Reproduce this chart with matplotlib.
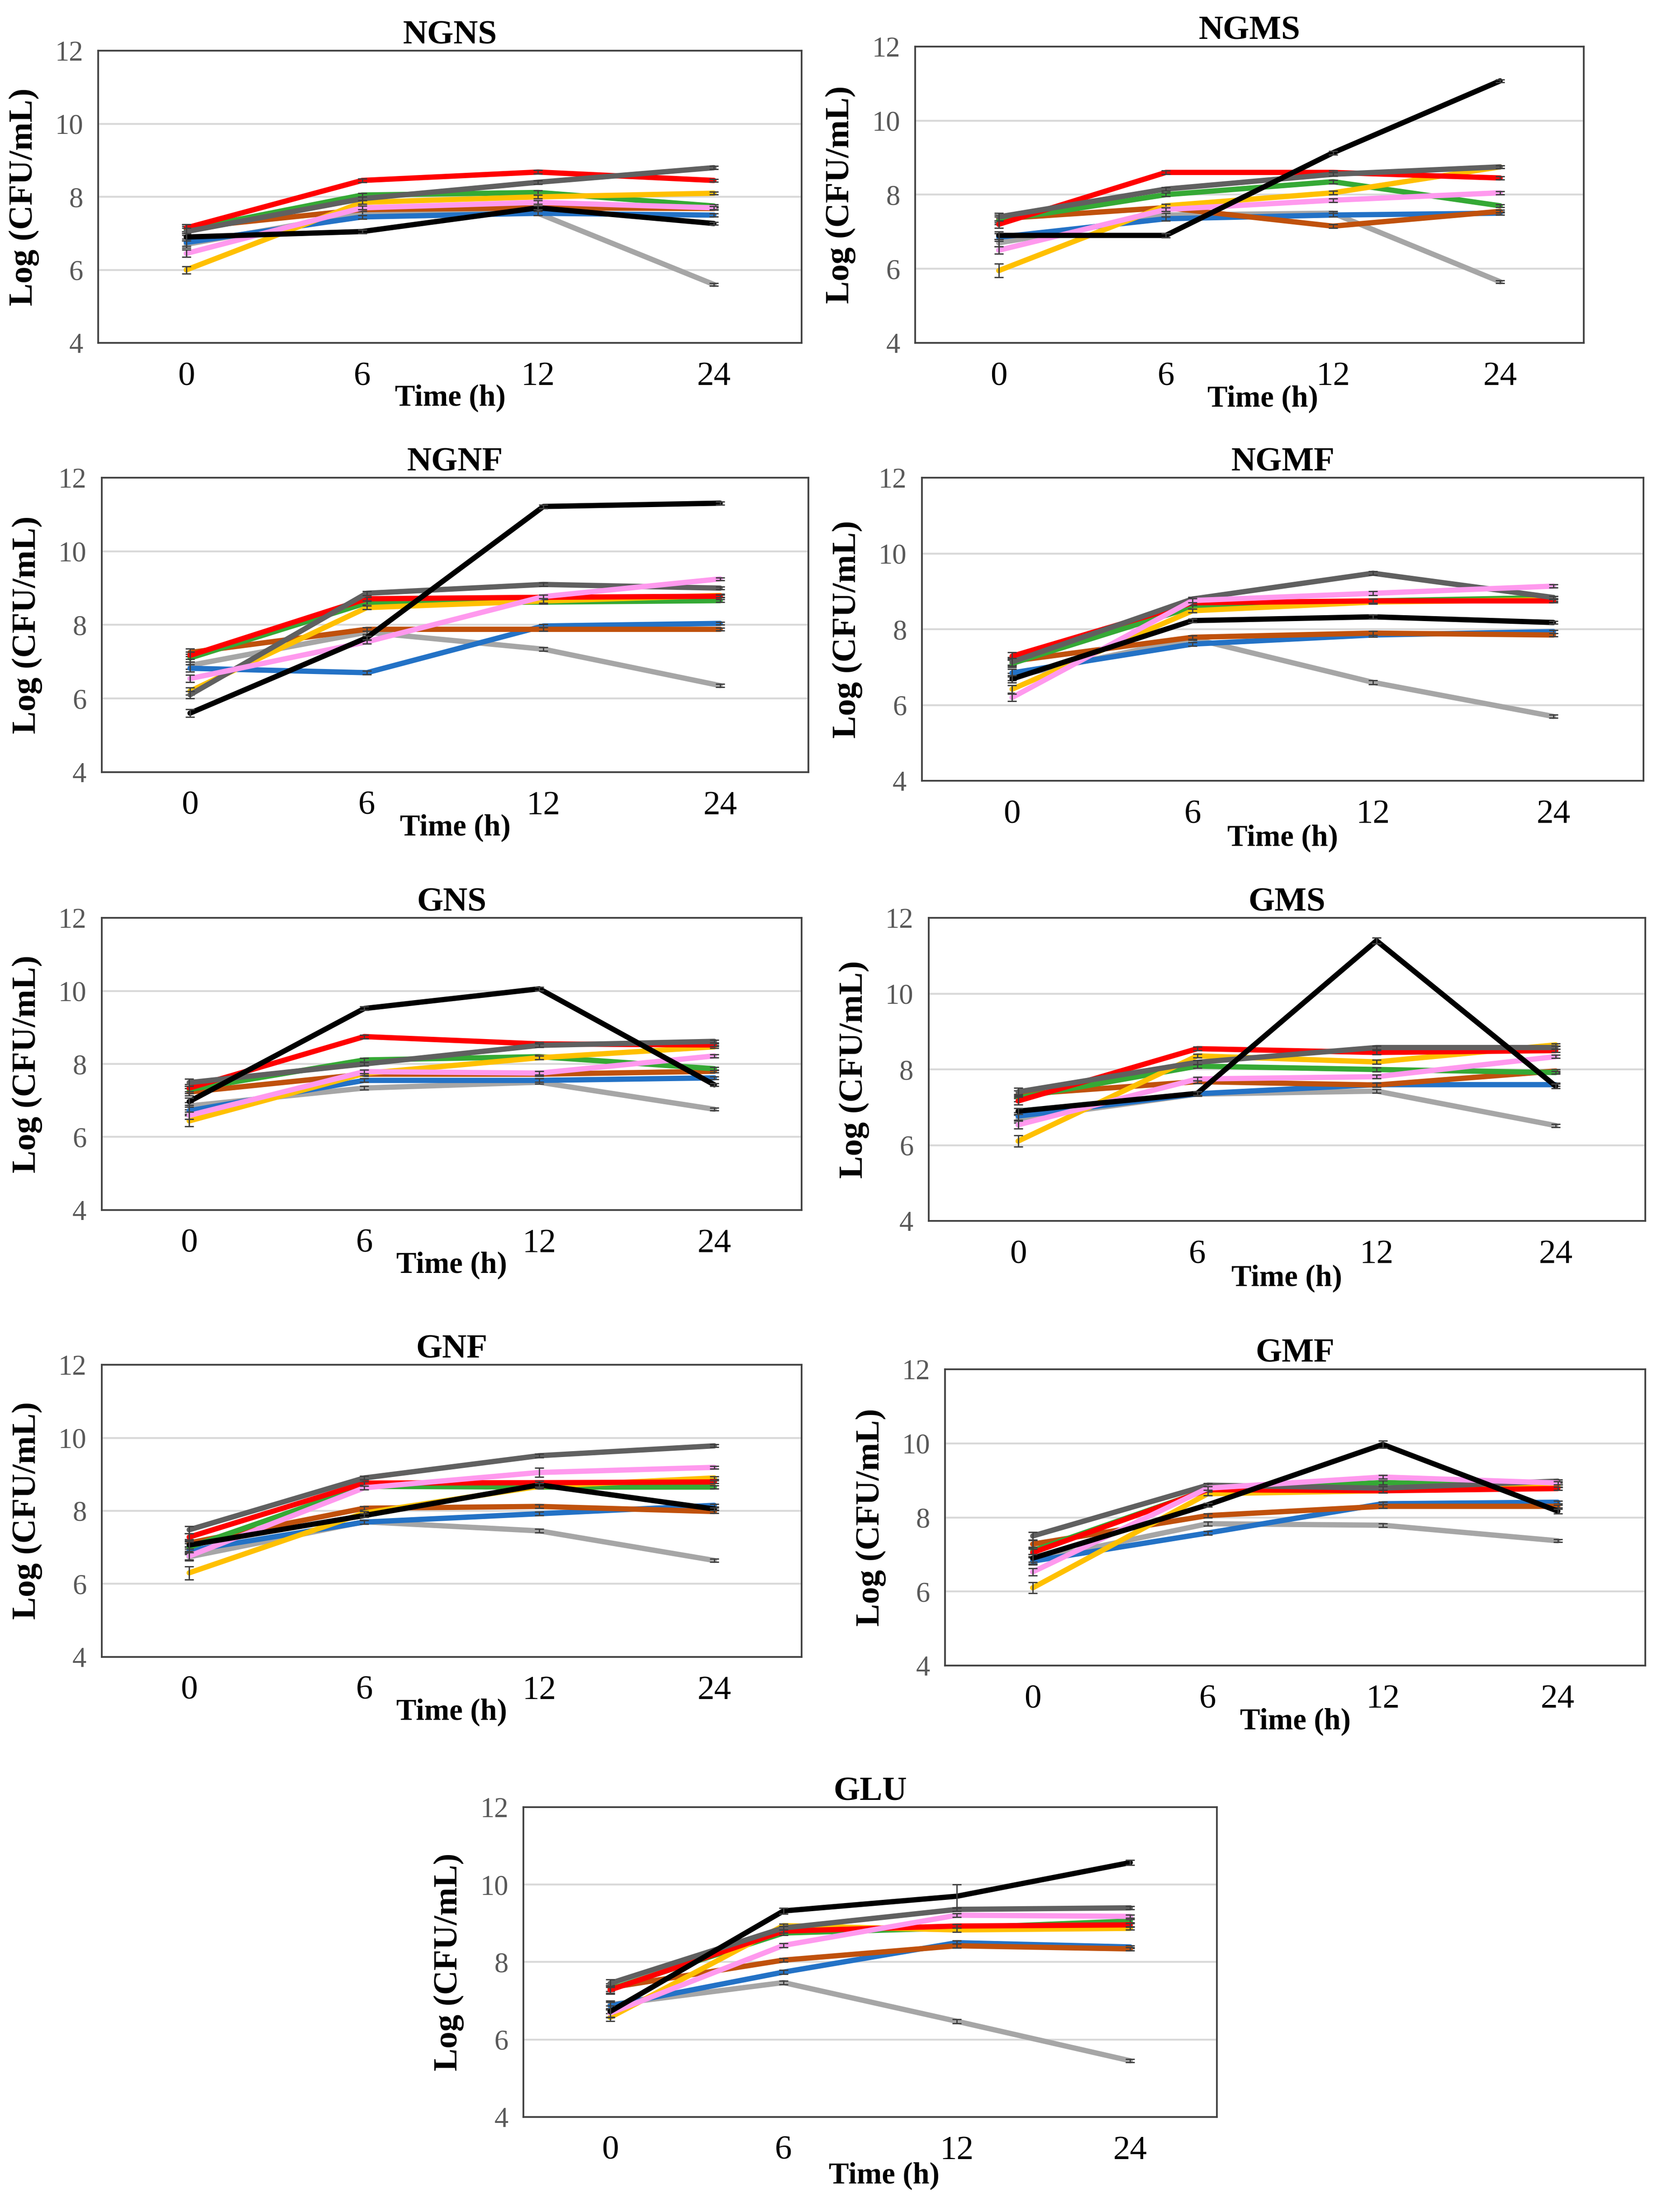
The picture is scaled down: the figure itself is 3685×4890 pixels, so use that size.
import matplotlib
matplotlib.use('Agg')
import matplotlib.pyplot as plt

plt.rcParams['font.family'] = ['Liberation Serif', 'DejaVu Serif']

# sumbu x kategori (jam)
times = ['0', '6', '12', '24']
ticks_y = [4, 6, 8, 10, 12]

# data per panel: log CFU/mL pada 0, 6, 12, 24 jam
ngns = dict(lgray=[6.70, 7.55, 7.55, 5.60], blue=[6.75, 7.45, 7.55, 7.50],
            brown=[7.15, 7.65, 7.70, 7.68], green=[7.10, 8.05, 8.12, 7.75],
            gold=[6.00, 7.85, 8.00, 8.10], red=[7.15, 8.45, 8.68, 8.45],
            dgray=[7.05, 7.95, 8.40, 8.80], pink=[6.45, 7.70, 7.85, 7.70],
            black=[6.90, 7.05, 7.70, 7.27])
ngms = dict(lgray=[6.70, 7.45, 7.50, 5.65], blue=[6.85, 7.35, 7.45, 7.50],
            brown=[7.35, 7.65, 7.15, 7.55], green=[7.30, 8.00, 8.35, 7.70],
            gold=[5.95, 7.70, 8.05, 8.75], red=[7.20, 8.60, 8.60, 8.45],
            dgray=[7.40, 8.15, 8.55, 8.75], pink=[6.50, 7.60, 7.85, 8.05],
            black=[6.90, 6.90, 9.13, 11.07])
ngnf = dict(lgray=[6.90, 7.80, 7.34, 6.35], blue=[6.82, 6.70, 7.97, 8.04],
            brown=[7.25, 7.88, 7.88, 7.88], green=[7.10, 8.60, 8.62, 8.66],
            gold=[6.20, 8.47, 8.65, 8.80], red=[7.17, 8.71, 8.75, 8.78],
            dgray=[6.10, 8.86, 9.10, 9.00], pink=[6.54, 7.54, 8.77, 9.25],
            black=[5.60, 7.65, 11.22, 11.31])
ngmf = dict(lgray=[6.75, 7.76, 6.60, 5.70], blue=[6.85, 7.61, 7.85, 7.94],
            brown=[7.16, 7.79, 7.90, 7.85], green=[7.10, 8.59, 8.75, 8.84],
            gold=[6.42, 8.49, 8.72, 8.78], red=[7.29, 8.70, 8.75, 8.75],
            dgray=[7.14, 8.80, 9.48, 8.84], pink=[6.20, 8.76, 8.95, 9.14],
            black=[6.69, 8.23, 8.33, 8.18])
gns = dict(lgray=[6.85, 7.34, 7.50, 6.76], blue=[6.72, 7.55, 7.55, 7.62],
           brown=[7.23, 7.72, 7.72, 7.80], green=[7.30, 8.11, 8.20, 7.87],
           gold=[6.44, 7.74, 8.17, 8.47], red=[7.34, 8.75, 8.55, 8.52],
           dgray=[7.49, 8.00, 8.51, 8.62], pink=[6.59, 7.79, 7.75, 8.22],
           black=[6.97, 9.52, 10.06, 7.43])
gms = dict(lgray=[6.70, 7.35, 7.43, 6.52], blue=[6.77, 7.36, 7.60, 7.60],
           brown=[7.34, 7.68, 7.59, 7.96], green=[7.25, 8.09, 8.00, 7.92],
           gold=[6.11, 8.36, 8.20, 8.65], red=[7.17, 8.55, 8.45, 8.50],
           dgray=[7.41, 8.19, 8.58, 8.58], pink=[6.54, 7.75, 7.81, 8.34],
           black=[6.90, 7.37, 11.40, 7.56])
gnf = dict(lgray=[6.74, 7.70, 7.45, 6.64], blue=[6.91, 7.69, 7.92, 8.15],
           brown=[7.12, 8.07, 8.12, 7.98], green=[7.00, 8.67, 8.65, 8.65],
           gold=[6.30, 7.94, 8.67, 8.90], red=[7.28, 8.76, 8.77, 8.79],
           dgray=[7.48, 8.90, 9.51, 9.78], pink=[6.76, 8.63, 9.05, 9.19],
           black=[7.06, 7.87, 8.71, 8.05])
gmf = dict(lgray=[6.85, 7.83, 7.79, 7.37], blue=[6.82, 7.58, 8.37, 8.41],
           brown=[7.28, 8.05, 8.30, 8.30], green=[7.10, 8.75, 8.94, 8.85],
           gold=[6.10, 8.64, 8.72, 8.85], red=[7.05, 8.75, 8.72, 8.78],
           dgray=[7.50, 8.87, 8.79, 8.98], pink=[6.53, 8.79, 9.09, 8.93],
           black=[6.90, 8.34, 9.97, 8.17])
glu = dict(lgray=[6.90, 7.47, 6.47, 5.45], blue=[6.87, 7.74, 8.50, 8.39],
           brown=[7.34, 8.05, 8.42, 8.34], green=[7.30, 8.75, 8.88, 9.06],
           gold=[6.57, 8.94, 8.83, 8.87], red=[7.28, 8.80, 8.93, 8.96],
           dgray=[7.45, 8.88, 9.36, 9.40], pink=[6.68, 8.43, 9.21, 9.18],
           black=[6.72, 9.32, 9.70, 10.57])

# galat baku (standar) dan beberapa yang lebih besar
err_default = [0.10, 0.05, 0.05, 0.04]
err_big = {('NGMS', 'gold'): [0.18, 0.05, 0.05, 0.04],
           ('GNS', 'gold'): [0.15, 0.05, 0.05, 0.04],
           ('GMS', 'gold'): [0.15, 0.05, 0.05, 0.04],
           ('GMS', 'black'): [0.08, 0.05, 0.08, 0.06],
           ('GNF', 'gold'): [0.18, 0.05, 0.05, 0.04],
           ('GNF', 'pink'): [0.10, 0.05, 0.12, 0.04],
           ('GMF', 'gold'): [0.15, 0.05, 0.05, 0.04],
           ('GMF', 'black'): [0.10, 0.05, 0.10, 0.06],
           ('GLU', 'black'): [0.15, 0.08, 0.30, 0.06]}

colors = {'lgray': '#A6A6A6', 'blue': '#2372C6', 'brown': '#C0510C',
          'green': '#35A935', 'gold': '#FFC000', 'red': '#FF0000',
          'dgray': '#606060', 'pink': '#FF99EE', 'black': '#000000'}

panels = [('NGNS', ngns, [0.059, 0.845, 0.422, 0.132], 0.50),
          ('NGMS', ngms, [0.549, 0.845, 0.401, 0.134], 0.52),
          ('NGNF', ngnf, [0.061, 0.651, 0.424, 0.133], 0.50),
          ('NGMF', ngmf, [0.553, 0.647, 0.433, 0.137], 0.50),
          ('GNS', gns, [0.061, 0.453, 0.420, 0.132], 0.50),
          ('GMS', gms, [0.557, 0.448, 0.430, 0.137], 0.50),
          ('GNF', gnf, [0.061, 0.251, 0.420, 0.132], 0.50),
          ('GMF', gmf, [0.567, 0.247, 0.420, 0.134], 0.50),
          ('GLU', glu, [0.314, 0.043, 0.416, 0.140], 0.52)]

fig = plt.figure(figsize=(3685 / 300, 4890 / 300), dpi=300)

for name, data, pos, xl in panels:
    ax = fig.add_axes(pos)
    x = range(len(times))
    for key, vals in data.items():
        ax.plot(x, vals, color=colors[key], lw=2.8, solid_capstyle='round', zorder=3)
        e = err_big.get((name, key), err_default)
        ax.errorbar(x, vals, yerr=e, fmt='none', ecolor='#404040',
                    elinewidth=0.7, capsize=2.5, capthick=0.7, zorder=3)

    ax.set_xlim(-0.5, 3.5)
    ax.set_ylim(4, 12)
    ax.set_xticks(list(x))
    ax.set_xticklabels(times)
    ax.set_yticks(ticks_y)
    ax.tick_params(axis='x', length=0, pad=10, labelsize=18, labelcolor='black')
    ax.tick_params(axis='y', length=0, pad=8, labelsize=15, labelcolor='#595959')
    ax.yaxis.grid(True, color='#D9D9D9', lw=1.0)
    ax.set_axisbelow(True)
    for s in ax.spines.values():
        s.set_color('#404040')
        s.set_linewidth(0.9)

    ax.set_title(name, fontsize=18, fontweight='bold', pad=3)
    ax.set_ylabel('Log (CFU/mL)', fontsize=18, fontweight='bold')
    # tepi kanan label ~42 px (tampilan) di kiri kotak
    ax.yaxis.set_label_coords(-42 / (pos[2] * 1185), 0.5)
    ax.text(xl, -0.19, 'Time (h)', transform=ax.transAxes, ha='center',
            va='center', fontsize=16, fontweight='bold')

plt.savefig('out.png', dpi=300)
